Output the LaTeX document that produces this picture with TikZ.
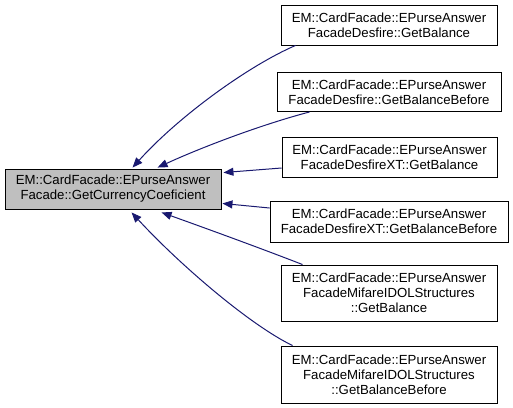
\documentclass[tikz,border=0pt]{standalone}
\usepackage{fontspec}
\setmainfont{Liberation Sans}
\usetikzlibrary{arrows.meta,calc}
\definecolor{edgeblue}{HTML}{191970}
\definecolor{nodegray}{HTML}{BFBFBF}
\tikzset{
  box/.style={draw=black, line width=0.9pt, fill=white, inner sep=0pt, align=center,
    font=\fontsize{13.2}{15}\selectfont},
  focus/.style={box, fill=nodegray},
  edge/.style={draw=edgeblue, line width=1pt, {Triangle[length=10pt,width=8pt]}-}
}
\begin{document}
\begin{tikzpicture}[x=1pt,y=-1pt]
\useasboundingbox (0,0) rectangle (513,407);
\node[focus, minimum width=216pt, minimum height=40pt] (L) at (113,189)
  {EM::CardFacade::EPurseAnswer\\Facade::GetCurrencyCoeficient};
\node[box, minimum width=216pt, minimum height=40pt] (B1) at (389,25)
  {EM::CardFacade::EPurseAnswer\\FacadeDesfire::GetBalance};
\node[box, minimum width=224pt, minimum height=39pt] (B2) at (389,92)
  {EM::CardFacade::EPurseAnswer\\FacadeDesfire::GetBalanceBefore};
\node[box, minimum width=215pt, minimum height=40pt] (B3) at (389.5,157)
  {EM::CardFacade::EPurseAnswer\\FacadeDesfireXT::GetBalance};
\node[box, minimum width=238pt, minimum height=41pt] (B4) at (389,221.5)
  {EM::CardFacade::EPurseAnswer\\FacadeDesfireXT::GetBalanceBefore};
\node[box, minimum width=216pt, minimum height=56pt] (B5) at (389,293)
  {EM::CardFacade::EPurseAnswer\\FacadeMifareIDOLStructures\\::GetBalance};
\node[box, minimum width=216pt, minimum height=57pt] (B6) at (389,374.5)
  {EM::CardFacade::EPurseAnswer\\FacadeMifareIDOLStructures\\::GetBalanceBefore};

\draw[edge] ($(L.north west)+(128,-1)$) .. controls (180,115) and (250,65) .. ($(B1.south west)+(15,0)$);
\draw[edge] ($(L.north west)+(153,-1)$) .. controls (200,148) and (260,125) .. ($(B2.south west)+(33,0)$);
\draw[edge] ($(L.north east)+(2,4)$) -- ($(B3.west)+(0,11)$);
\draw[edge] ($(L.south east)+(1,-6)$) -- ($(B4.west)+(0,-13.5)$);
\draw[edge] ($(L.south west)+(157,3)$) .. controls (205,228) and (260,248) .. ($(B5.north west)+(22,0)$);
\draw[edge] ($(L.south west)+(127,3)$) .. controls (180,265) and (250,325) .. ($(B6.north west)+(12,0)$);
\end{tikzpicture}
\end{document}
